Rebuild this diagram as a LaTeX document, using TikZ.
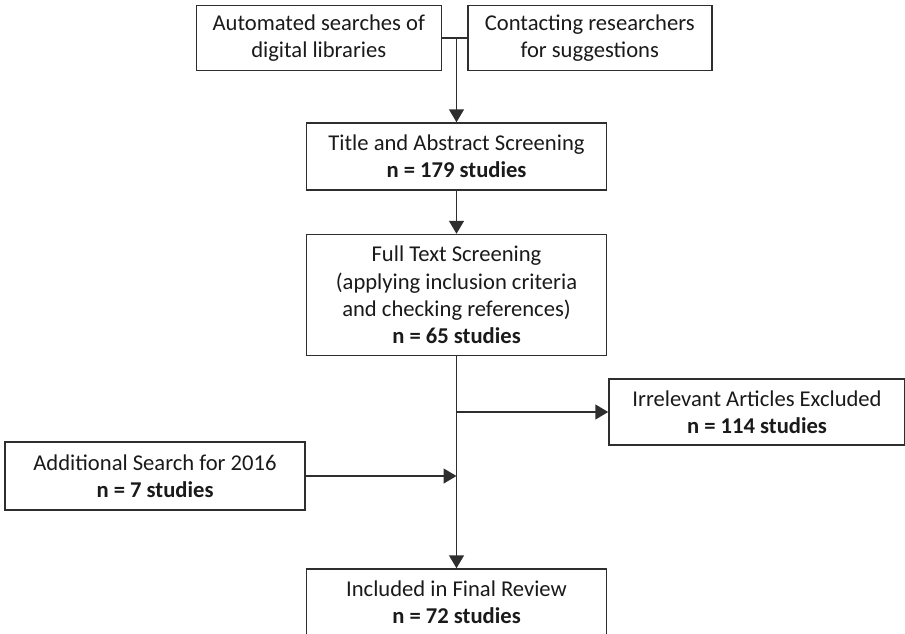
\documentclass[tikz,border=0pt]{standalone}
\usepackage{fontspec}
\setmainfont{Carlito}
\usetikzlibrary{arrows.meta,positioning,calc}
\definecolor{ink}{HTML}{1A1A1A}
\definecolor{edge}{HTML}{2E2E2E}
\tikzset{
  box/.style={
    draw=edge, line width=0.75pt, fill=white,
    inner xsep=4pt, inner ysep=3pt,
    align=center, text=ink,
    font=\fontsize{11.3}{13.6}\selectfont
  },
  arrow/.style={-{Triangle[length=6.5pt, width=7.5pt]}, line width=0.75pt, draw=edge},
  link/.style={line width=0.75pt, draw=edge}
}

\begin{document}
\begin{tikzpicture}[node distance=21.5pt]
        \useasboundingbox (0,0) rectangle (452.5pt,-316.5pt);
        \node[box, minimum width=150pt, minimum height=33.5pt] (title) at (228.25pt,-78.25pt)
          {Title and Abstract Screening\\\textbf{n = 179 studies}};
        \node[box, anchor=south east, minimum width=122.5pt, minimum height=32.5pt, above left=25.5pt and 7.25pt of title.north] (auto)
          {Automated searches of\\digital libraries};
        \node[box, anchor=south west, minimum width=122pt, minimum height=32.5pt, above right=25.5pt and 5.25pt of title.north] (contact)
          {Contacting researchers\\for suggestions};
        \node[box, minimum width=150pt, minimum height=60.5pt, below=of title] (full)
          {Full Text Screening\\(applying inclusion criteria\\and checking references)\\\textbf{n = 65 studies}};
        \node[box, minimum width=148pt, minimum height=33pt, below right=11pt and 0.5pt of full.south east] (irrel)
          {Irrelevant Articles Excluded\\\textbf{n = 114 studies}};
        \node[box, minimum width=150pt, minimum height=34pt, below left=42.5pt and 0pt of full.south west] (extra)
          {Additional Search for 2016\\\textbf{n = 7 studies}};
        \node[box, minimum width=150pt, minimum height=33.5pt, below=106pt of full] (final)
          {Included in Final Review\\\textbf{n = 72 studies}};

        \draw[link] (auto.east) -- (contact.west);
        \draw[arrow] (title.north |- auto.east) -- (title.north);
        \draw[arrow] (title) -- (full);
        \draw[arrow] (full) -- (final);
        \draw[arrow] (full.south |- irrel.west) -- (irrel.west);
        \draw[arrow] (extra.east) -- (extra.east -| full.south);
      \end{tikzpicture}
\end{document}
